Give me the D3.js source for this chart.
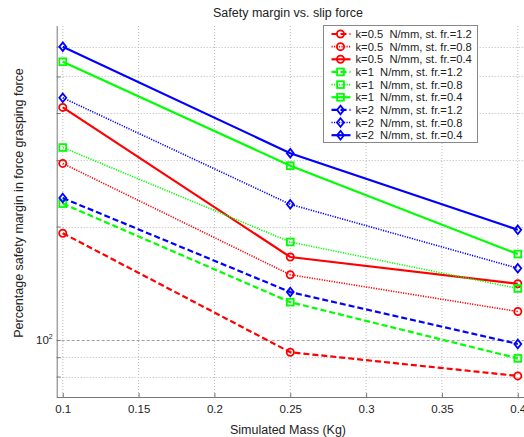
<!DOCTYPE html>
<html>
<head>
<meta charset="utf-8">
<script src="https://cdn.jsdelivr.net/npm/d3@7"></script>
<style>
  html, body { margin: 0; padding: 0; background: #fff; }
  svg { display: block; font-family: "Liberation Sans", Arial, sans-serif; }
</style>
</head>
<body>
<svg id="chart" width="524" height="437"></svg>
<script>
// Simulated masses (Kg)
const masses = [0.1, 0.25, 0.4];

// Percentage safety margin, one array per stiffness / static friction pair
const k05_fr12 = [192, 92.8, 80.3];
const k05_fr08 = [294, 149, 119];
const k05_fr04 = [414, 166, 141];
const k1_fr12  = [230, 126, 89.4];
const k1_fr08  = [324, 182, 137];
const k1_fr04  = [547, 290, 169];
const k2_fr12  = [238, 134, 97.6];
const k2_fr08  = [439, 229, 155];
const k2_fr04  = [600, 313, 196];

const seriesNames = [
  "k=0.5  N/mm, st. fr.=1.2",
  "k=0.5  N/mm, st. fr.=0.8",
  "k=0.5  N/mm, st. fr.=0.4",
  "k=1  N/mm, st. fr.=1.2",
  "k=1  N/mm, st. fr.=0.8",
  "k=1  N/mm, st. fr.=0.4",
  "k=2  N/mm, st. fr.=1.2",
  "k=2  N/mm, st. fr.=0.8",
  "k=2  N/mm, st. fr.=0.4"
];
const seriesValues = [k05_fr12, k05_fr08, k05_fr04, k1_fr12, k1_fr08, k1_fr04, k2_fr12, k2_fr08, k2_fr04];

const xTickValues = [0.1, 0.15, 0.2, 0.25, 0.3, 0.35, 0.4];
const yGridValues = [80, 90, 100, 200, 300, 400, 500, 600];

// styling per stiffness (colour, marker) and per friction (line style)
const colors  = ["#ff0000", "#00ff00", "#0000ff"];
const markers = ["circle", "square", "diamond"];
const styles  = [
  { dash: "6,3",     width: 2.2 },  // st. fr. 1.2 : dashed
  { dash: "1.2,1.3", width: 1.6 },  // st. fr. 0.8 : dotted
  { dash: null,      width: 2.2 }   // st. fr. 0.4 : solid
];

const series = seriesNames.map((name, i) => ({
  name,
  values: seriesValues[i],
  color: colors[Math.floor(i / 3)],
  marker: markers[Math.floor(i / 3)],
  style: styles[i % 3]
}));

const svg = d3.select("#chart");
const plot = { left: 56.7, right: 524, top: 26, bottom: 397 };

const x = d3.scaleLinear().domain([0.096, 0.4041]).range([plot.left, plot.right]);
const y = d3.scaleLog().domain([70.6, 680.6]).range([plot.bottom, plot.top]);

// grid
const grid = svg.append("g");
grid.selectAll("line.vg").data(xTickValues).join("line")
  .attr("x1", d => x(d)).attr("x2", d => x(d))
  .attr("y1", plot.top).attr("y2", plot.bottom)
  .attr("stroke", "#b8b8b8").attr("stroke-width", 1)
  .attr("stroke-dasharray", "1,2");
grid.selectAll("line.hg").data(yGridValues).join("line")
  .attr("x1", plot.left).attr("x2", plot.right)
  .attr("y1", d => Math.round(y(d)) + 0.5).attr("y2", d => Math.round(y(d)) + 0.5)
  .attr("stroke", d => d === 100 ? "#a0a0a0" : "#b8b8b8")
  .attr("stroke-width", 1)
  .attr("stroke-dasharray", d => d === 100 ? "3,2" : "1,2");

// axes
const xAxis = d3.axisBottom(x).tickValues(xTickValues).tickSize(-4).tickPadding(8)
  .tickFormat(d => String(+d.toFixed(2)));
const gx = svg.append("g").attr("transform", `translate(0,${plot.bottom})`).call(xAxis);
gx.select(".domain").attr("stroke", "#777").attr("d", `M${plot.left},0.5H${plot.right}`);
gx.selectAll(".tick line").attr("stroke", "#777");
gx.selectAll(".tick text").attr("font-size", 11.5).attr("fill", "#222")
  .attr("font-family", "Liberation Sans, Arial, sans-serif");

const yAxis = d3.axisLeft(y).tickValues(yGridValues).tickSize(-4).tickFormat("");
const gy = svg.append("g").attr("transform", `translate(${plot.left},0)`).call(yAxis);
gy.select(".domain").attr("stroke", "#777").attr("d", `M0.5,${plot.top}V${plot.bottom}`);
gy.selectAll(".tick line").attr("stroke", "#777");

// the only labelled decade
const yLab = svg.append("text")
  .attr("x", plot.left - 4).attr("y", y(100) + 4)
  .attr("text-anchor", "end").attr("font-size", 11.5).attr("fill", "#222");
yLab.append("tspan").text("10");
yLab.append("tspan").attr("dy", -5).attr("font-size", 7).text("2");

// series lines
const line = d3.line().x((d, i) => x(masses[i])).y(d => y(d));

function drawMarker(g, type, cx, cy, color) {
  if (type === "circle") {
    g.append("circle").attr("cx", cx).attr("cy", cy).attr("r", 3.6)
      .attr("fill", "none").attr("stroke", color).attr("stroke-width", 1.8);
  } else if (type === "square") {
    g.append("rect").attr("x", cx - 3.4).attr("y", cy - 3.4)
      .attr("width", 6.8).attr("height", 6.8)
      .attr("fill", "none").attr("stroke", color).attr("stroke-width", 1.8);
  } else {
    const r = 4.3;
    g.append("path")
      .attr("d", `M${cx},${cy - r}L${cx + r * 0.8},${cy}L${cx},${cy + r}L${cx - r * 0.8},${cy}Z`)
      .attr("fill", "none").attr("stroke", color).attr("stroke-width", 1.8);
  }
}

const lines = svg.append("g");
series.forEach(s => {
  const g = lines.append("g");
  g.append("path").datum(s.values).attr("d", line)
    .attr("fill", "none").attr("stroke", s.color)
    .attr("stroke-width", s.style.width)
    .attr("stroke-dasharray", s.style.dash);
  s.values.forEach((v, i) => drawMarker(g, s.marker, x(masses[i]), y(v), s.color));
});

// legend
const legend = svg.append("g");
const lg = { x: 323.5, y: 25.5, w: 154, h: 117, row: 12.65 };
legend.append("rect").attr("x", lg.x).attr("y", lg.y).attr("width", lg.w).attr("height", lg.h)
  .attr("fill", "#fff").attr("stroke", "#888").attr("stroke-width", 1);
series.forEach((s, i) => {
  const cy = lg.y + 8.5 + i * lg.row;
  const g = legend.append("g");
  g.append("line").attr("x1", lg.x + 8).attr("x2", lg.x + 27).attr("y1", cy).attr("y2", cy)
    .attr("stroke", s.color).attr("stroke-width", s.style.width)
    .attr("stroke-dasharray", s.style.dash);
  drawMarker(g, s.marker, lg.x + 17, cy, s.color);
  g.append("text").attr("x", lg.x + 32).attr("y", cy + 4)
    .attr("font-size", 11.2).attr("fill", "#222")
    .style("white-space", "pre").attr("xml:space", "preserve")
    .text(s.name);
});

// titles
svg.append("text").attr("x", 288).attr("y", 17).attr("text-anchor", "middle")
  .attr("font-size", 12.5).attr("fill", "#222").text("Safety margin vs. slip force");
svg.append("text").attr("x", 288).attr("y", 434).attr("text-anchor", "middle")
  .attr("font-size", 12.5).attr("fill", "#222").text("Simulated Mass (Kg)");
svg.append("text")
  .attr("transform", `translate(23,203) rotate(-90)`)
  .attr("text-anchor", "middle")
  .attr("font-size", 12.5).attr("fill", "#222").text("Percentage safety margin in force grasping force");
</script>
</body>
</html>
